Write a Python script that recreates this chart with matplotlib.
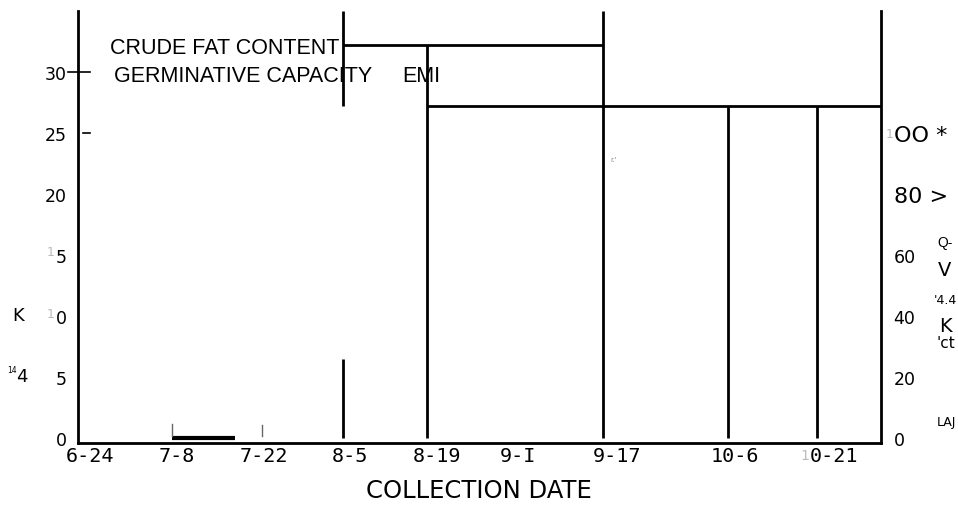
import matplotlib
matplotlib.use("Agg")
import matplotlib.pyplot as plt
from matplotlib.transforms import offset_copy

# ---- data (x in days after June 24) ----
date_pos = [0, 14, 28, 42, 56, 69, 85, 104, 119]
date_labels = ["6-24", "7-8", "7-22", "8-5", "8-19", "9-I", "9-17", "10-6", "0-21"]

left_ticks = [0, 5, 10, 15, 20, 25, 30]
left_labels = ["0", "5", "0", "5", "20", "25", "30"]
right_ticks = [0, 20, 40, 60, 80, 100]
right_labels = ["0", "20", "40", "60", "80 >", "OO *"]

# horizontal segments (left-axis units)
h_y = [32.2, 27.2, 0.0]
h_x0 = [40.8, 54.4, 13.2]
h_x1 = [82.7, 127.6, 23.4]
h_lw = [2.0, 2.0, 3.0]

# vertical segments
v_x = [40.8, 40.8, 54.4, 82.7, 102.9, 117.3]
v_y0 = [27.2, 0.0, 0.0, 0.0, 0.0, 0.0]
v_y1 = [35.0, 6.5, 32.2, 35.0, 27.2, 27.2]

# faint small marks near bottom
m_x = [13.2, 27.7]
m_y0 = [0.15, 0.15]
m_y1 = [1.15, 1.05]

W, H = 958, 506
fig = plt.figure(figsize=(W / 100, H / 100), dpi=100)
ax = fig.add_axes([78 / W, 1 - 444 / H, (881 - 78) / W, (444 - 12) / H])
ax.set_xlim(-1.94, 127.6)
ax.set_ylim(-0.41, 35.0)

for s in ["left", "right", "bottom"]:
    ax.spines[s].set_linewidth(2.0)
ax.spines["top"].set_visible(False)

for y, x0, x1, lw in zip(h_y, h_x0, h_x1, h_lw):
    ax.plot([x0, x1], [y, y], color="black", lw=lw, solid_capstyle="butt")
for x, y0, y1 in zip(v_x, v_y0, v_y1):
    ax.plot([x, x], [y0, y1], color="black", lw=2.0, solid_capstyle="butt")
for x, y0, y1 in zip(m_x, m_y0, m_y1):
    ax.plot([x, x], [y0, y1], color="#666666", lw=1.0)

# x ticks
ax.set_xticks(date_pos)
ax.set_xticklabels(date_labels, family="DejaVu Sans Mono", fontsize=14.5)
ax.tick_params(axis="x", length=0, pad=2)
last = ax.get_xticklabels()[-1]
last.set_transform(offset_copy(last.get_transform(), fig=fig, x=6, y=0, units="dots"))

# left y ticks
ax.set_yticks(left_ticks)
ax.set_yticklabels(left_labels, family="DejaVu Sans", fontsize=12.5)
ax.tick_params(axis="y", length=0, pad=8)

# right axis
ax2 = ax.twinx()
ax2.set_ylim(-0.41 * 4, 35.0 * 4)
ax2.set_xlim(ax.get_xlim())
for s in ax2.spines.values():
    s.set_visible(False)
ax2.set_yticks(right_ticks)
ax2.set_yticklabels(right_labels, family="DejaVu Sans", fontsize=12.5)
ax2.tick_params(axis="y", length=0, pad=9)
for lab in ax2.get_yticklabels():
    if lab.get_text() in ("80 >", "OO *"):
        lab.set_fontsize(16)

# tick dashes at 30 and 25
ax.plot([-3.5, 0.0], [30, 30], color="black", lw=1.2, clip_on=False)
ax.plot([-1.1, 0.0], [25, 25], color="black", lw=1.2, clip_on=False)

def ftxt(x, y, s, **kw):
    kw.setdefault("family", "DejaVu Sans")
    kw.setdefault("va", "center")
    fig.text(x / W, 1 - y / H, s, **kw)

# faint "1"s
ftxt(51, 253, "1", fontsize=9, color="#bbbbbb", ha="center")
ftxt(51, 315, "1", fontsize=9, color="#bbbbbb", ha="center")
ftxt(890, 135, "1", fontsize=9, color="#bbbbbb", ha="center")
ftxt(805, 456, "1", fontsize=10, color="#bbbbbb", ha="center")

# legend-ish texts
ftxt(110, 48, "CRUDE FAT CONTENT", fontsize=15.5, ha="left", family="Liberation Sans")
ftxt(114, 76, "GERMINATIVE CAPACITY", fontsize=15.5, ha="left", family="Liberation Sans")
ftxt(402, 76, "EMI", fontsize=15.5, ha="left", family="Liberation Sans")

# axis label
ftxt(479, 491, "COLLECTION DATE", fontsize=17.5, ha="center")

# stray marks
ftxt(18, 316, "K", fontsize=13, ha="center")
ftxt(12, 371, "14", fontsize=5.5, ha="center", family="Liberation Sans Narrow")
ftxt(22, 377, "4", fontsize=13, ha="center", family="Liberation Sans Narrow")
ftxt(945, 243, "Q-", fontsize=10, ha="center", family="Liberation Sans")
ftxt(945, 270, "V", fontsize=14, ha="center")
ftxt(945, 300, "'4.4", fontsize=9, ha="center", family="Liberation Sans Narrow")
ftxt(945, 327, "K", fontsize=14, ha="center")
ftxt(946, 344, "'ct", fontsize=11, ha="center", family="Liberation Sans Narrow")
ftxt(946, 423, "LAJ", fontsize=9, ha="center", family="Liberation Sans Narrow")
ftxt(614, 160, "r.'", fontsize=5, ha="center", color="#888888")

fig.savefig("out.png", dpi=100)
